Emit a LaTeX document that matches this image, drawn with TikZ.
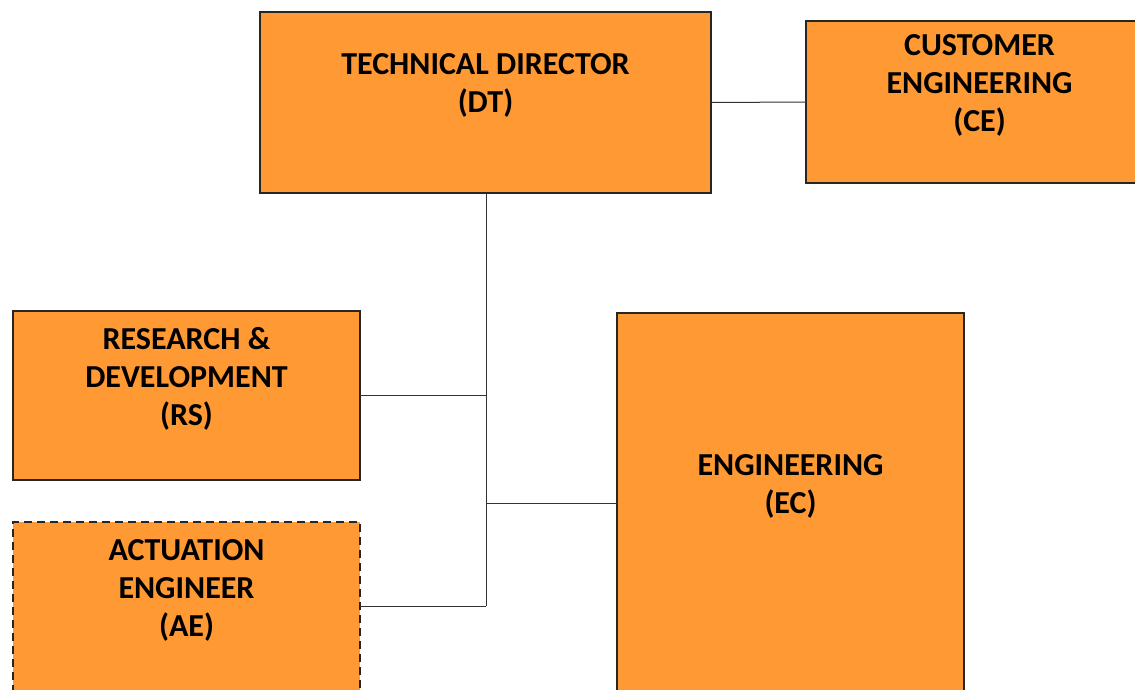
\documentclass[tikz,border=0pt]{standalone}
\usepackage{fontspec}
\setmainfont{Carlito}
\begin{document}
\begin{tikzpicture}[x=1pt,y=-1pt,
  unit/.style={draw=black!85,line width=1.8pt,fill=orangebox,inner sep=0pt,outer sep=0pt,
    align=center,font=\bfseries\fontsize{32}{38}\selectfont,text=black},
  link/.style={draw=black!80,line width=1pt}]
\definecolor{orangebox}{HTML}{FF9933}
\useasboundingbox (0,0) rectangle (1135,689);
\clip (0,0) rectangle (1135,689);
\node[unit,minimum width=451pt,minimum height=181pt] (dt) at (485.5,102.5) {TECHNICAL DIRECTOR\\(DT)\\\mbox{}};
\node[unit,minimum width=347pt,minimum height=162pt] (ce) at (979.5,102) {CUSTOMER\\ENGINEERING\\(CE)\\\mbox{}};
\node[unit,minimum width=347pt,minimum height=169pt] (rs) at (186.5,395.5) {RESEARCH \&\\DEVELOPMENT\\(RS)\\\mbox{}};
\node[unit,dash pattern=on 8pt off 5pt,minimum width=347pt,minimum height=170pt] (ae) at (186.5,607) {ACTUATION\\ENGINEER\\(AE)\\\mbox{}};
\node[unit,minimum width=347pt,minimum height=380pt] (ec) at (790.5,503) {ENGINEERING\\(EC)\\\mbox{}};
\coordinate (j) at (486,606);
\draw[link] (dt.south -| j) -- (j);
\draw[link] (dt.east) -- (ce.west);
\draw[link] (rs.east) -- (rs.east -| j);
\draw[link] (ec.west) -- (ec.west -| j);
\draw[link] (ae.east |- j) -- (j);
\end{tikzpicture}
\end{document}
